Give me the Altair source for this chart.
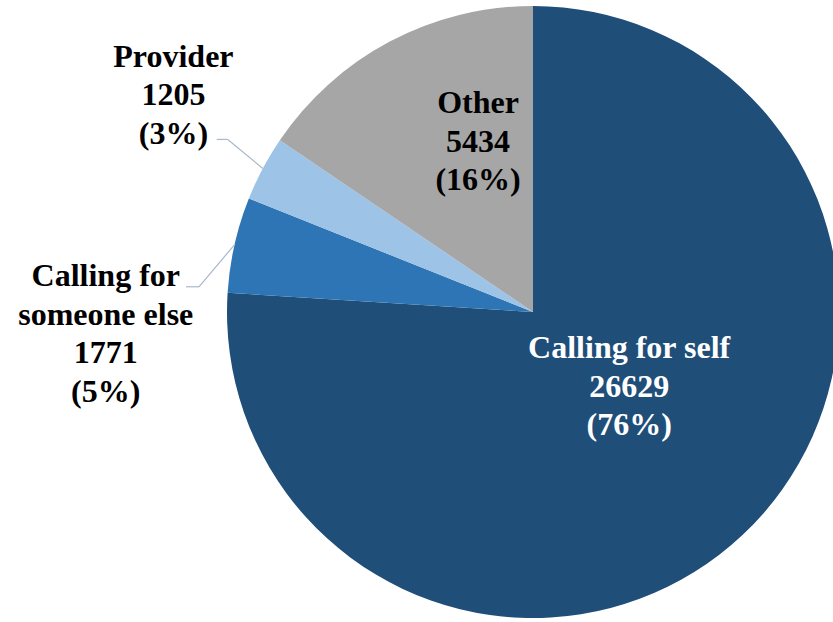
import altair as alt
import pandas as pd

categories = ["Calling for self", "Calling for someone else", "Provider", "Other"]
counts = [26629, 1771, 1205, 5434]
percent_labels = ["76%", "5%", "3%", "16%"]
name_lines = [["Calling for self"], ["Calling for", "someone else"], ["Provider"], ["Other"]]
colors = ["#1F4E79", "#2E75B6", "#9DC3E6", "#A6A6A6"]

df = pd.DataFrame({
    "category": categories,
    "count": counts,
    "order": list(range(len(categories))),
    "label": ["\n".join(n + [str(c), f"({p})"]) for n, c, p in zip(name_lines, counts, percent_labels)],
})

CX, CY, R = 533, 312, 306
FONT = "Liberation Serif"
LEADER = "#A9B8CA"

base = alt.Chart(df)

pie = base.mark_arc(radius=R).encode(
    theta=alt.Theta("count:Q", stack=True),
    color=alt.Color("category:N", scale=alt.Scale(domain=categories, range=colors), legend=None),
    order=alt.Order("order:Q"),
    x=alt.value(CX),
    y=alt.value(CY),
)

geo = (
    base.transform_window(cum="sum(count)", sort=[alt.SortField("order")], frame=[None, 0])
    .transform_joinaggregate(total="sum(count)")
    .transform_calculate(mid="(datum.cum - datum.count/2) / datum.total * 2 * PI")
)


def label(cat, r, dx, dy, color):
    return (
        geo.transform_filter(alt.datum.category == cat)
        .transform_calculate(lx=f"{CX} + {r}*sin(datum.mid)", ly=f"{CY} - {r}*cos(datum.mid)")
        .mark_text(font=FONT, fontWeight="bold", fontSize=32, lineHeight=38.5, lineBreak="\n",
                   color=color, dx=dx, dy=dy, align="center", baseline="middle")
        .encode(
            x=alt.X("lx:Q", scale=None, axis=None),
            y=alt.Y("ly:Q", scale=None, axis=None),
            text="label:N",
        )
    )


def leader(cat, ex, ey, hx):
    g = (
        geo.transform_filter(alt.datum.category == cat)
        .transform_calculate(px=f"{CX} + {R}*sin(datum.mid)", py=f"{CY} - {R}*cos(datum.mid)")
        .transform_calculate(bx=f"datum.px + ({ex})", by=f"datum.py + ({ey})")
        .transform_calculate(hx=f"datum.bx + ({hx})")
    )
    diag = g.mark_rule(color=LEADER, strokeWidth=1.2).encode(
        x=alt.X("px:Q", scale=None, axis=None),
        y=alt.Y("py:Q", scale=None, axis=None),
        x2="bx:Q",
        y2="by:Q",
    )
    horiz = g.mark_rule(color=LEADER, strokeWidth=1.2).encode(
        x=alt.X("bx:Q", scale=None, axis=None),
        y=alt.Y("by:Q", scale=None, axis=None),
        x2="hx:Q",
        y2="by:Q",
    )
    return diag + horiz


chart = alt.layer(
    pie,
    leader("Provider", -35, -29, -11),
    leader("Calling for someone else", -35.5, 42, -13),
    label("Calling for self", 120, 14, -51, "white"),
    label("Other", 190, 34, -41, "black"),
    label("Provider", 380, -24, -77, "black"),
    label("Calling for someone else", 400, -37, 52, "black"),
).properties(
    width=833, height=622, padding=0, autosize=alt.AutoSizeParams(type="none"), background="white"
).configure_view(stroke=None)

chart.save("out.html", embed_options={"renderer": "svg", "actions": False})
